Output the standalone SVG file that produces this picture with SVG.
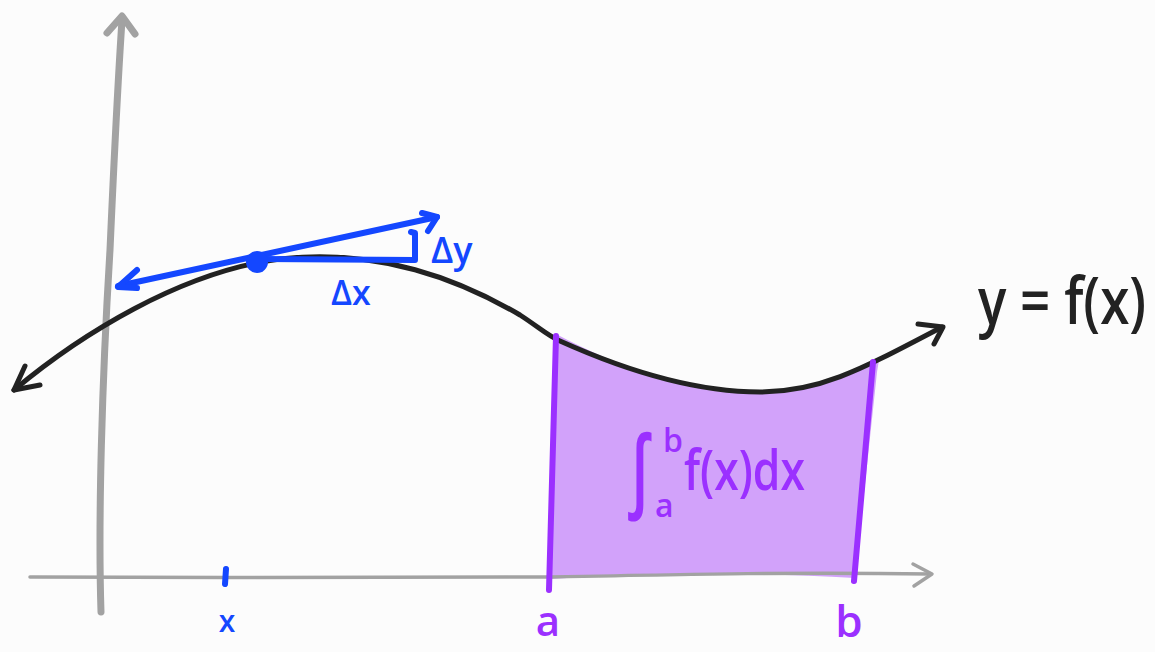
<svg xmlns="http://www.w3.org/2000/svg" width="1155" height="652" viewBox="0 0 1155 652">
<defs>
<style>
.ax{fill:none;stroke:#a2a2a2;stroke-linecap:round;stroke-linejoin:round}
.blk{fill:none;stroke:#222;stroke-width:5;stroke-linecap:round;stroke-linejoin:round}
.blu{fill:none;stroke:#1447ff;stroke-width:6;stroke-linecap:round;stroke-linejoin:round}
.pur{fill:none;stroke:#9b30ff;stroke-width:6;stroke-linecap:round;stroke-linejoin:round}
.t{font-family:"Open Sans","Liberation Sans",sans-serif;font-weight:600}
.tb{fill:#1447ff}
.tp{fill:#9b30ff}
</style>
</defs>
<rect width="1155" height="652" fill="#fcfcfc"/>
<g id="area">
<path d="M556,334 C620,368 690,392 760,392 C815,392 848,376 868,362 L879,360 L877,372 L855,578 C750,572 650,573 550,579 Z" fill="#d2a2fa"/>
</g>
<g id="axes">
<path class="ax" stroke-width="7" d="M101,612 C98,520 102,380 110,250 C114,160 118,80 122,20"/>
<polyline class="ax" stroke-width="7" points="107,33 122,16 135,34"/>
<path class="ax" stroke-width="3.5" d="M30,577 C200,578 400,577 550,577 C700,574 800,572 930,574"/>
<polyline class="ax" stroke-width="3.5" points="913,564 932,574 914,586"/>
</g>
<g id="curve">
<path class="blk" d="M14,390 C80,335 180,272 280,259 C380,248 460,280 520,315 C540,328 548,336 560,341 C620,368 690,392 760,392 C820,392 860,370 942,327"/>
<polyline class="blk" points="25,366 14,390 40,385"/>
<polyline class="blk" points="918,324 943,327 934,344"/>
<text class="t" transform="translate(978,324) scale(1,1.22)" x="0" y="0" font-size="53" fill="#222">y = f(x)</text>
</g>
<g id="bounds">
<path class="pur" d="M556,336 L549,590"/>
<path class="pur" d="M873,362 L854,581"/>
<text class="t tp" x="548" y="636" font-size="42" text-anchor="middle">a</text>
<text class="t tp" x="849" y="637" font-size="44" text-anchor="middle">b</text>
</g>
<g id="integral">
<text class="t tp" transform="translate(628,500) scale(1,1.5)" x="0" y="0" font-size="60">∫</text>
<text class="t tp" x="663" y="452" font-size="32">b</text>
<text class="t tp" x="655" y="517" font-size="32">a</text>
<text class="t tp" x="684" y="490" font-size="56" textLength="121" lengthAdjust="spacingAndGlyphs">f(x)dx</text>
</g>
<g id="tangent">
<path class="blu" d="M118,286 L437,217"/>
<polyline class="blu" points="137,270 118,287 137,288"/>
<polyline class="blu" points="422,213 437,217 428,231"/>
<path class="blu" d="M262,259 L415,260 L415,233 L411,232"/>
<circle cx="257" cy="262" r="11" fill="#1447ff"/>
<text class="t tb" x="431" y="263" font-size="36">Δy</text>
<text class="t tb" x="331" y="305" font-size="34">Δx</text>
</g>
<g id="tick">
<path class="blu" stroke-width="5" d="M226,569 L225,584"/>
<text class="t tb" x="227" y="632" font-size="30" text-anchor="middle">x</text>
</g>
</svg>
